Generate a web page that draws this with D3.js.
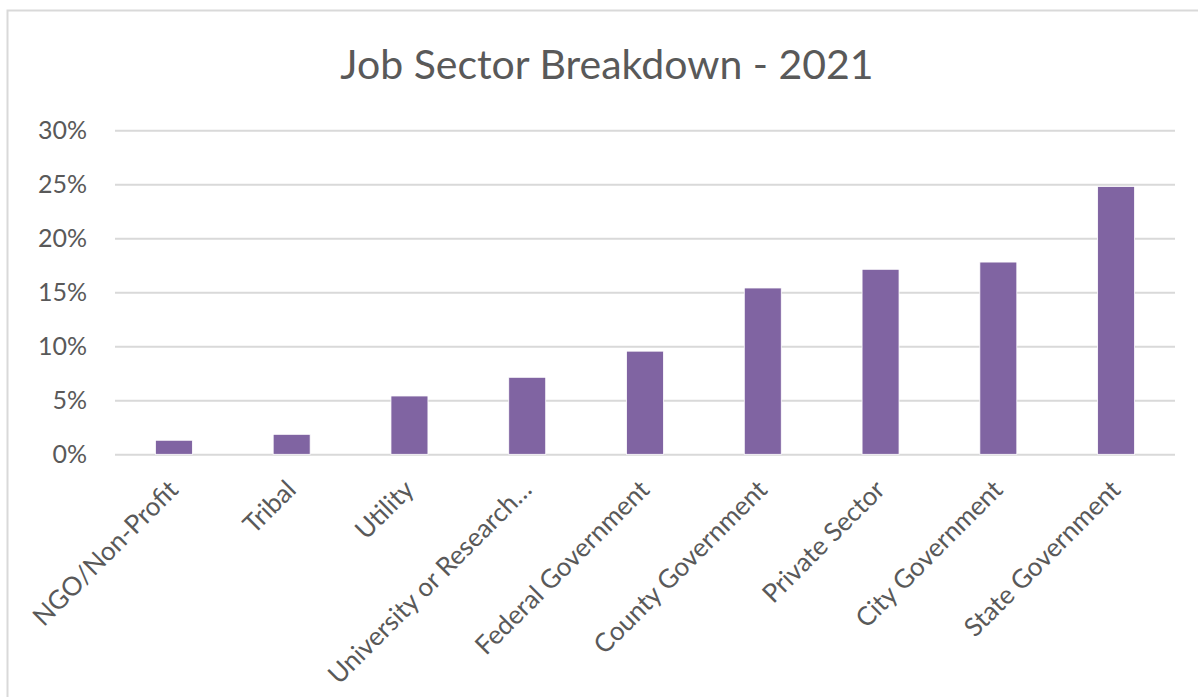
<!DOCTYPE html>
<html>
<head>
<meta charset="utf-8">
<script src="https://cdn.jsdelivr.net/npm/d3@7"></script>
<style>
  html, body { margin: 0; padding: 0; background: #ffffff; }
  svg { display: block; }
</style>
</head>
<body>
<svg id="chart" width="1198" height="697"></svg>
<script>
// Share of respondents by job sector, 2021
const sectors = [
  "NGO/Non-Profit", "Tribal", "Utility", "University or Research\u2026",
  "Federal Government", "County Government", "Private Sector",
  "City Government", "State Government"
];
const shares = [0.013, 0.0185, 0.054, 0.0713, 0.0955, 0.154, 0.1713, 0.178, 0.248];
const yTicks = [0, 0.05, 0.10, 0.15, 0.20, 0.25, 0.30];
const chartTitle = "Job Sector Breakdown - 2021";

const plot = { left: 115, right: 1175, top: 130.3, bottom: 454.3 };
const textColor = "#595959";
const gridColor = "#d9d9d9";
const barColor = "#8064a2";
const fontFamily = "Lato, 'Open Sans', sans-serif";

const svg = d3.select("#chart");

// chart frame
svg.append("rect")
  .attr("x", 7.5).attr("y", 10.5)
  .attr("width", 1260).attr("height", 760)
  .attr("fill", "#ffffff")
  .attr("stroke", gridColor).attr("stroke-width", 2);

const x = d3.scaleBand()
  .domain(sectors)
  .range([plot.left, plot.right])
  .paddingInner(0.686)
  .paddingOuter(0.343);

const y = d3.scaleLinear()
  .domain([0, 0.30])
  .range([plot.bottom, plot.top]);

// title
svg.append("text")
  .attr("x", 607).attr("y", 79)
  .attr("text-anchor", "middle")
  .attr("font-family", fontFamily)
  .attr("font-size", 41)
  .attr("fill", textColor)
  .text(chartTitle);

// gridlines + y labels
const yAxis = d3.axisLeft(y)
  .tickValues(yTicks)
  .tickFormat(d3.format(".0%"))
  .tickSize(-(plot.right - plot.left))
  .tickPadding(28);

const gy = svg.append("g")
  .attr("transform", `translate(${plot.left},0)`)
  .call(yAxis);
gy.select(".domain").remove();
gy.selectAll(".tick line")
  .attr("stroke", gridColor).attr("stroke-width", 2);
gy.selectAll(".tick text")
  .attr("font-family", fontFamily)
  .attr("font-size", 25)
  .attr("fill", textColor);

// bars
svg.append("g")
  .selectAll("rect")
  .data(sectors.map((s, i) => ({ sector: s, value: shares[i] })))
  .join("rect")
  .attr("x", d => x(d.sector))
  .attr("width", x.bandwidth())
  .attr("y", d => y(d.value))
  .attr("height", d => y(0) - y(d.value))
  .attr("fill", barColor)
  .attr("stroke", "#ffffff")
  .attr("stroke-width", 0.8);

// category labels, rotated
const xAxis = d3.axisBottom(x).tickSize(0).tickPadding(0);
const gx = svg.append("g")
  .attr("transform", `translate(0,${plot.bottom})`)
  .call(xAxis);
gx.select(".domain").remove();
gx.selectAll(".tick text")
  .attr("font-family", fontFamily)
  .attr("font-size", 26)
  .attr("fill", textColor)
  .attr("text-anchor", "end")
  .attr("dy", null)
  .attr("y", null)
  .attr("transform", "translate(6,37) rotate(-45)");
</script>
</body>
</html>
